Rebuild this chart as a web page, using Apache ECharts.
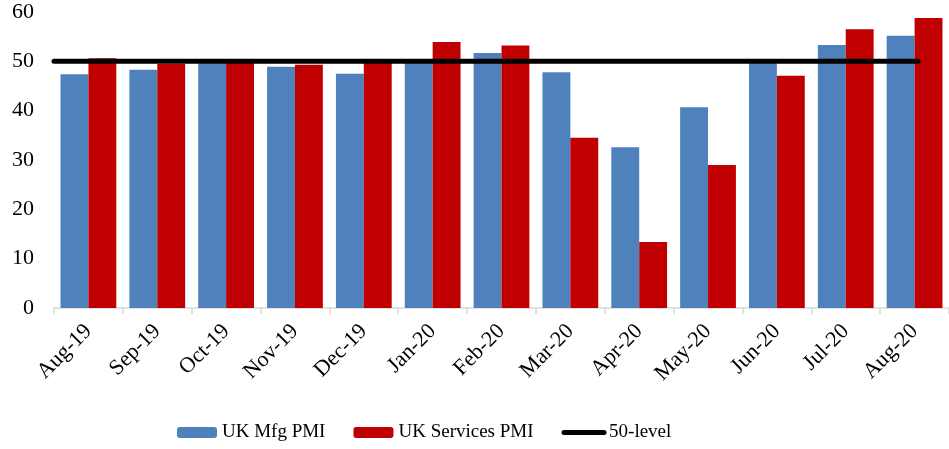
<!DOCTYPE html>
<html>
<head>
<meta charset="utf-8">
<script src="https://cdn.jsdelivr.net/npm/echarts@6/dist/echarts.min.js"></script>
<style>
  html, body { margin: 0; padding: 0; background: #fff; }
  #myChart { width: 949px; height: 449px; }
</style>
</head>
<body>
<div id="myChart"></div>
<script>
var months = ['Aug-19', 'Sep-19', 'Oct-19', 'Nov-19', 'Dec-19', 'Jan-20', 'Feb-20',
              'Mar-20', 'Apr-20', 'May-20', 'Jun-20', 'Jul-20', 'Aug-20'];
var mfgPmi = [47.4, 48.3, 49.6, 48.9, 47.5, 50.0, 51.7, 47.8, 32.6, 40.7, 50.1, 53.3, 55.2];
var servicesPmi = [50.6, 49.5, 50.0, 49.3, 50.0, 53.9, 53.2, 34.5, 13.4, 29.0, 47.1, 56.5, 58.8];
// the 50 line runs from the left edge of the axis to the middle of the last month
var levelX = [0, 12.55];
var levelY = [50, 50];

var serif = '"Liberation Serif", "Times New Roman", serif';

var myChart = echarts.init(document.getElementById('myChart'));
myChart.setOption({
  animation: false,
  backgroundColor: '#fff',
  grid: { left: 54, right: 0, top: 12, bottom: 141 },
  legend: {
    bottom: 2,
    left: 172,
    itemWidth: 40,
    itemHeight: 11,
    itemGap: 28,
    textStyle: { fontFamily: serif, fontSize: 19, color: '#000' },
    data: [
      'UK Mfg PMI',
      'UK Services PMI',
      { name: '50-level', itemStyle: { opacity: 0 }, lineStyle: { width: 5, cap: 'round', color: '#000' } }
    ]
  },
  xAxis: [
    {
      type: 'category',
      data: months,
      axisLine: { lineStyle: { color: '#d9d9d9', width: 1.5 } },
      axisTick: { show: true, length: 6, lineStyle: { color: '#d9d9d9', width: 1.5 } },
      axisLabel: {
        rotate: 45,
        margin: 20,
        fontFamily: serif,
        fontSize: 22,
        color: '#000',
        interval: 0
      }
    },
    {
      type: 'value',
      min: 0,
      max: 13,
      show: false
    }
  ],
  yAxis: {
    type: 'value',
    min: 0,
    max: 60,
    interval: 10,
    axisLine: { show: false },
    axisTick: { show: false },
    splitLine: { show: false },
    axisLabel: { fontFamily: serif, fontSize: 22, color: '#000', margin: 20 }
  },
  series: [
    {
      name: 'UK Mfg PMI',
      type: 'bar',
      data: mfgPmi,
      barGap: '0%',
      barCategoryGap: '19%',
      itemStyle: { color: '#4f81bd' }
    },
    {
      name: 'UK Services PMI',
      type: 'bar',
      data: servicesPmi,
      itemStyle: { color: '#c00000' }
    },
    {
      name: '50-level',
      type: 'line',
      xAxisIndex: 1,
      data: levelX.map(function (x, i) { return [x, levelY[i]]; }),
      symbol: 'none',
      lineStyle: { color: '#000', width: 5, cap: 'round' },
      itemStyle: { color: '#000' },
      z: 5
    }
  ]
});
</script>
</body>
</html>
